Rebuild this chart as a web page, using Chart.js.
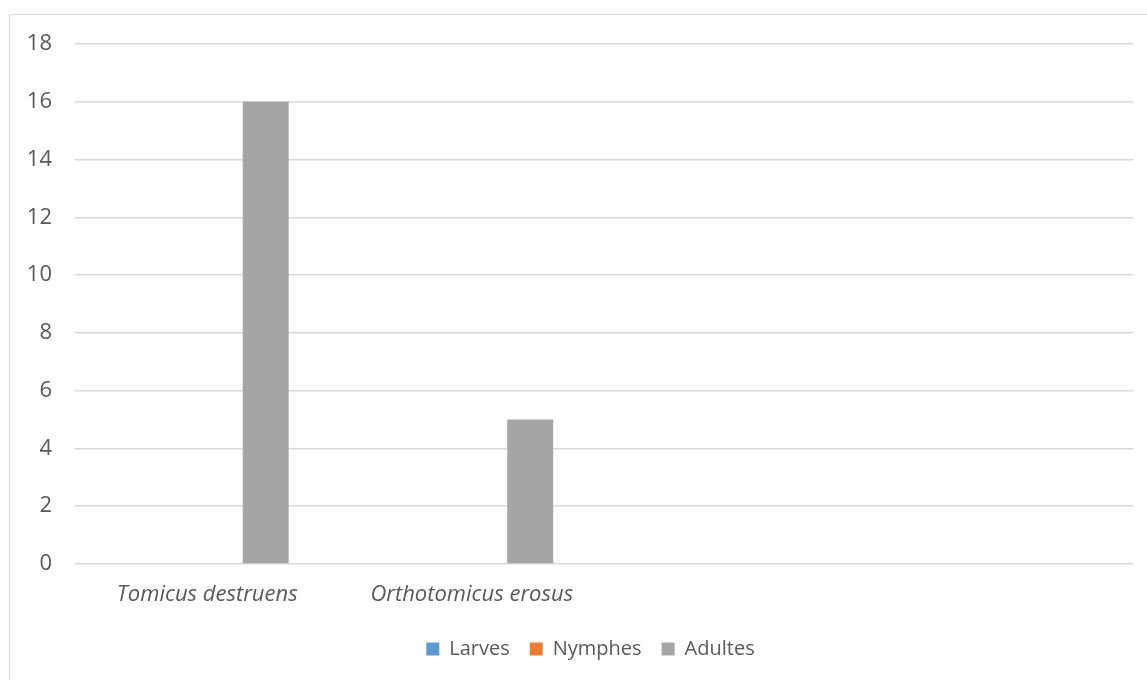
<!DOCTYPE html>
<html>
<head>
<meta charset="utf-8">
<script src="https://cdn.jsdelivr.net/npm/chart.js@4.4.1/dist/chart.umd.min.js"></script>
<style>
    html, body { margin: 0; padding: 0; background: #fff; overflow: hidden; }
    #frame { position: absolute; left: 9px; top: 14px; width: 1300px; height: 900px; border: 1px solid #d9d9d9; }
    #wrap { position: absolute; left: 0; top: 0; width: 1147px; height: 680px; }
</style>
</head>
<body>
<div id="frame"></div>
<div id="wrap"><canvas id="bark-chart"></canvas></div>
<script>
const categories = ['Tomicus destruens', 'Orthotomicus erosus', '', ''];
const larves = [0, 0, null, null];
const nymphes = [0, 0, null, null];
const adultes = [16, 5, null, null];
const yTicks = [0, 2, 4, 6, 8, 10, 12, 14, 16, 18];

const FONT = "'Open Sans', 'DejaVu Sans', sans-serif";
const TEXT = '#595959';
const GRID = '#d9d9d9';

// the legend sits centred on the whole chart frame, which runs past the right edge
const legendShift = {
    id: 'legendShift',
    afterLayout: function (chart) {
        chart.legend.left += 19;
        chart.legend.right += 19;
    }
};

new Chart(document.getElementById('bark-chart').getContext('2d'), {
    type: 'bar',
    plugins: [legendShift],
    data: {
        labels: categories,
        datasets: [
            { label: 'Larves', data: larves, backgroundColor: '#5b9bd5' },
            { label: 'Nymphes', data: nymphes, backgroundColor: '#ed7d31' },
            { label: 'Adultes', data: adultes, backgroundColor: '#a5a5a5' }
        ]
    },
    options: {
        responsive: true,
        maintainAspectRatio: false,
        animation: false,
        categoryPercentage: 0.663,
        barPercentage: 0.786,
        layout: {
            padding: { left: 10, right: 14, top: 44, bottom: 11 }
        },
        scales: {
            x: {
                grid: { display: false, drawTicks: false },
                border: { display: false },
                afterFit: function (scale) {
                    scale.height = 55;
                },
                ticks: {
                    color: TEXT,
                    padding: 18,
                    maxRotation: 0,
                    font: { family: FONT, size: 22, style: 'italic' }
                }
            },
            y: {
                min: 0,
                max: 18,
                afterBuildTicks: function (scale) {
                    scale.ticks = yTicks.map(v => ({ value: v }));
                },
                afterFit: function (scale) {
                    scale.width = 65;
                },
                grid: { color: GRID, lineWidth: 1.5, drawTicks: false },
                border: { display: false },
                ticks: {
                    color: TEXT,
                    padding: 23,
                    font: { family: FONT, size: 22 }
                }
            }
        },
        plugins: {
            legend: {
                position: 'bottom',
                labels: {
                    color: TEXT,
                    boxWidth: 13,
                    boxHeight: 13,
                    padding: 20,
                    font: { family: FONT, size: 20 }
                }
            },
            tooltip: { enabled: false }
        }
    }
});
</script>
</body>
</html>
